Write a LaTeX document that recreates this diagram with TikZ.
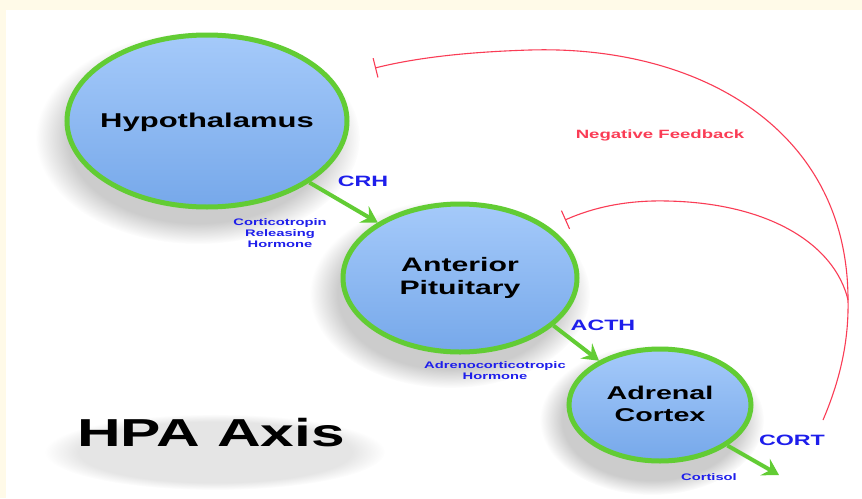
\documentclass[tikz,border=0pt]{standalone}
\usepackage{fontspec}
\setmainfont{Liberation Sans}
\newfontfamily\widefont{Liberation Sans}[FakeStretch=1.55]
\usetikzlibrary{shapes.geometric,arrows.meta,fadings}
\definecolor{cream}{RGB}{255,250,232}
\definecolor{organgreen}{RGB}{98,204,52}
\definecolor{labelblue}{RGB}{30,30,235}
\definecolor{fbred}{RGB}{250,60,85}
\definecolor{bluetop}{RGB}{165,202,250}
\definecolor{bluebot}{RGB}{118,168,234}
\tikzset{
  organ/.style={ellipse, draw=organgreen, line width=5pt, inner sep=0pt,
    top color=bluetop, bottom color=bluebot},
  organtext/.style={font=\widefont\bfseries\fontsize{19.5}{23}\selectfont, align=center, text=black},
  hormone/.style={font=\widefont\bfseries\fontsize{15}{17}\selectfont, text=labelblue},
  hname/.style={font=\widefont\bfseries\fontsize{9.5}{11}\selectfont, text=labelblue, align=center},
  flow/.style={draw=organgreen, line width=4pt, -{Stealth[length=16pt,width=19pt,inset=6pt]}},
  feedback/.style={draw=fbred, line width=1.1pt, -{Bar[width=20pt,line width=1.1pt]}},
  softshadow/.style={fill=black, opacity=0.2, path fading=circle with fuzzy edge 20 percent}
}
\begin{document}
\begin{tikzpicture}[x=1pt,y=-1pt]
\useasboundingbox (0,0) rectangle (862,498);
\fill[cream] (0,0) rectangle (862,498);
\fill[white] (6,10) rectangle (862,498);
% soft shadows
\fill[softshadow] (198,138) ellipse [x radius=162, y radius=106];
\fill[softshadow] (450,294) ellipse [x radius=140, y radius=94];
\fill[softshadow] (652,420) ellipse [x radius=112, y radius=75];
\fill[softshadow, opacity=0.1] (215,452) ellipse [x radius=170, y radius=38];
% feedback loops
\coordinate (fbstart) at (823,420);
\coordinate (fbjoin) at (848,300);
\coordinate (fbhyp) at (375,68);
\coordinate (fbant) at (565,220);
\draw[feedback] (fbstart) .. controls (838,385) and (849,345) .. (fbjoin)
   .. controls (848,130) and (700,45) .. (530,50)
   .. controls (465,52) and (415,58) .. (fbhyp);
\draw[feedback] (fbjoin) .. controls (835,245) and (770,203) .. (667,201)
   .. controls (625,200) and (592,208) .. (fbant);
\node[text=fbred, font=\widefont\bfseries\fontsize{12}{14}\selectfont] (neg) at (660,135) {Negative Feedback};
% organs
\node[organ, minimum width=280pt, minimum height=172pt] (hyp) at (207,121) {};
\node[organ, minimum width=234pt, minimum height=148pt] (ant) at (460,278) {};
\node[organ, minimum width=182pt, minimum height=112pt] (adr) at (660,405) {};
\node[organtext, font=\widefont\bfseries\fontsize{20}{24}\selectfont] (hyptxt) at (207,122) {Hypothalamus};
\node[organtext] (anttxt) at (460,278) {Anterior\\Pituitary};
\node[organtext, font=\widefont\bfseries\fontsize{18.5}{22}\selectfont] (adrtxt) at (660,404) {Adrenal\\Cortex};
% green flows
\coordinate (cortend) at (779,475);
\draw[flow] (hyp.-31.5) -- (ant.146);
\draw[flow] (ant.-27) -- (adr.144);
\draw[flow] (adr.-31) -- (cortend);
% hormone labels
\node[hormone] (crh) at (363,181) {CRH};
\node[hname] (crhname) at (280,233) {Corticotropin\\Releasing\\Hormone};
\node[hormone] (acth) at (603,325) {ACTH};
\node[hname] (acthname) at (495,371) {Adrenocorticotropic\\Hormone};
\node[hormone] (cort) at (792,440) {CORT};
\node[hname] (cortname) at (709,477) {Cortisol};
% title
\node[font=\widefont\bfseries\fontsize{39}{44}\selectfont] (title) at (211,433) {HPA Axis};
\end{tikzpicture}
\end{document}
